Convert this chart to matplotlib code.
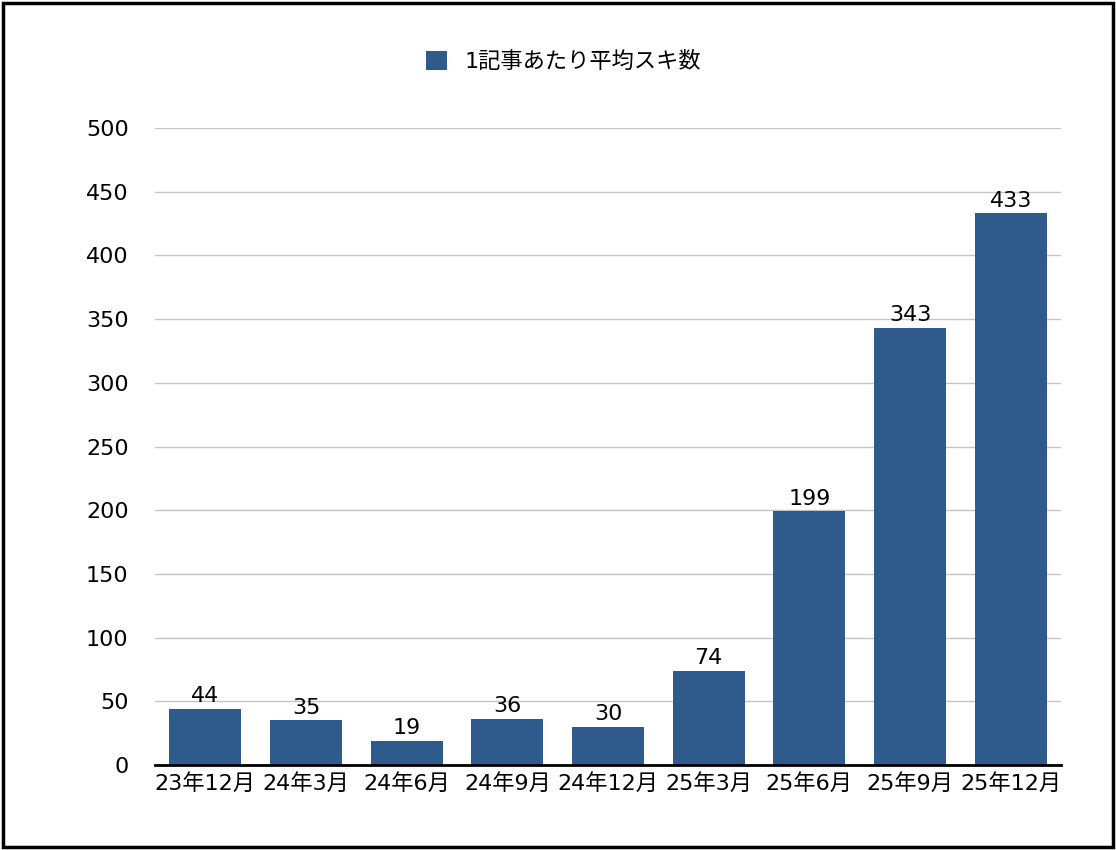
import matplotlib.pyplot as plt
from matplotlib.patches import Rectangle

plt.rcParams['font.family'] = ['DejaVu Sans', 'Noto Sans CJK JP']

# data
months = ['23年12月', '24年3月', '24年6月', '24年9月', '24年12月',
          '25年3月', '25年6月', '25年9月', '25年12月']
avg_likes = [44, 35, 19, 36, 30, 74, 199, 343, 433]
series_name = '1記事あたり平均スキ数'

bar_color = '#2E5A8C'

fig = plt.figure(figsize=(11.16, 8.5), dpi=100)
ax = fig.add_axes([0.1389, 0.1, 0.8118, 0.7494])

x = range(len(months))
bars = ax.bar(x, avg_likes, width=0.715, color=bar_color, label=series_name, zorder=3)
ax.bar_label(bars, labels=[str(v) for v in avg_likes], padding=2, fontsize=16)

ax.set_xlim(-0.5, len(months) - 0.5)
ax.set_ylim(0, 500)
ax.set_yticks(range(0, 501, 50))
ax.set_xticks(list(x))
ax.set_xticklabels(months)
ax.tick_params(axis='both', length=0, labelsize=16)
ax.tick_params(axis='y', pad=19)
ax.tick_params(axis='x', pad=6)
ax.yaxis.grid(True, color='#c4c4c4', linewidth=1, zorder=0)
ax.set_axisbelow(True)
for side in ['left', 'right', 'top']:
    ax.spines[side].set_visible(False)
ax.spines['bottom'].set_linewidth(2)
ax.spines['bottom'].set_color('black')
ax.spines['bottom'].set_zorder(4)

fig.legend(handles=[bars], labels=[series_name], loc='center',
           bbox_to_anchor=(0.505, 0.928), frameon=False, fontsize=16,
           handlelength=0.95, handleheight=0.95, handletextpad=0.8)

# black frame around the whole picture
fig.patches.append(Rectangle((0.003, 0.004), 0.994, 0.992, transform=fig.transFigure,
                             fill=False, edgecolor='black', linewidth=2.5))

fig.savefig('out.png', dpi=100)
